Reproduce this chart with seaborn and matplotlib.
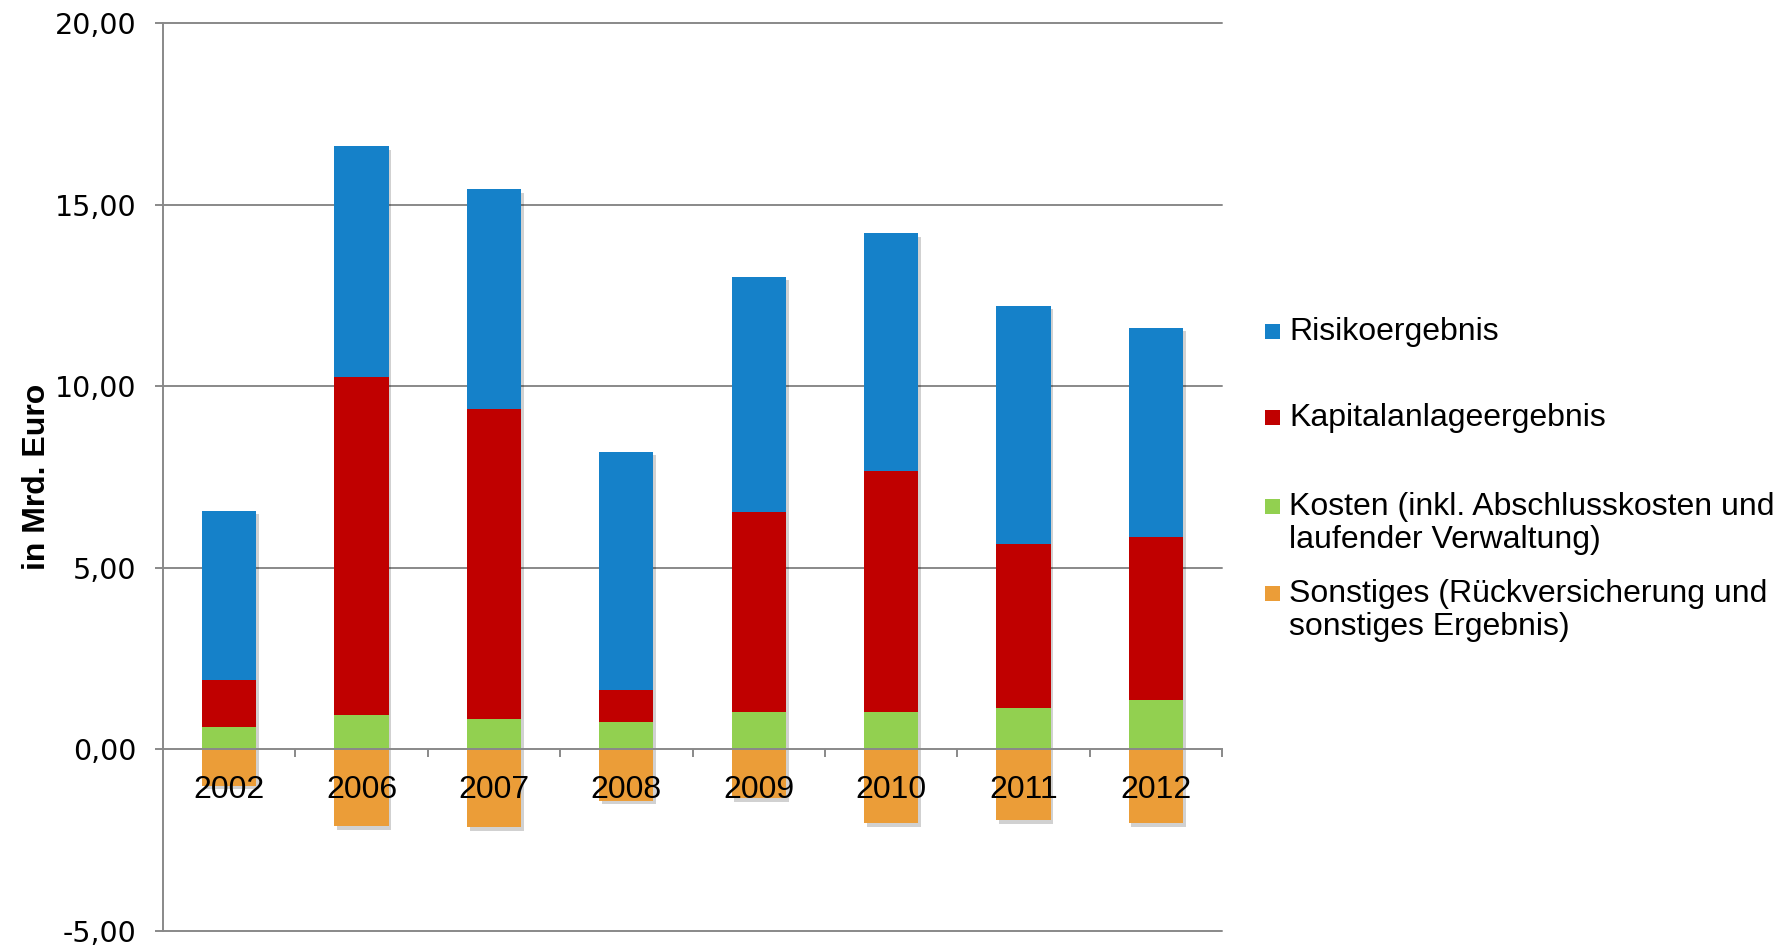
import matplotlib
matplotlib.use("Agg")
import matplotlib.pyplot as plt
import matplotlib.patheffects as pe
from matplotlib.patches import Rectangle
from matplotlib.ticker import FuncFormatter, FixedLocator
import numpy as np
import pandas as pd
import seaborn as sns

# Überschussquellen der Lebensversicherer, in Mrd. Euro
years = ["2002", "2006", "2007", "2008", "2009", "2010", "2011", "2012"]
risiko = [4.66, 6.37, 6.06, 6.55, 6.46, 6.55, 6.57, 5.76]
kapital = [1.30, 9.29, 8.52, 0.89, 5.51, 6.62, 4.51, 4.50]
kosten = [0.61, 0.95, 0.84, 0.75, 1.04, 1.04, 1.14, 1.35]
sonstiges = [-1.00, -2.12, -2.14, -1.42, -1.35, -2.04, -1.95, -2.04]

series_labels = [
    "Risikoergebnis",
    "Kapitalanlageergebnis",
    "Kosten (inkl. Abschlusskosten und\nlaufender Verwaltung)",
    "Sonstiges (Rückversicherung und\nsonstiges Ergebnis)",
]
series_colors = ["#1581C9", "#C00000", "#92D050", "#EB9D38"]
y_ticks = [-5, 0, 5, 10, 15, 20]

sns.set_theme(style="white")
plt.rcParams["font.family"] = ["Liberation Sans", "DejaVu Sans"]

df = pd.DataFrame({
    "Jahr": years,
    "Risiko": risiko,
    "Kapital": kapital,
    "Kosten": kosten,
    "Sonstiges": sonstiges,
})
# cumulative tops of the positive stack (drawn back to front)
df["top_kosten"] = df["Kosten"]
df["top_kapital"] = df["Kosten"] + df["Kapital"]
df["top_risiko"] = df["top_kapital"] + df["Risiko"]

fig = plt.figure(figsize=(17.92, 9.46), dpi=100)
ax = fig.add_axes([163 / 1792, 15 / 946, 1059 / 1792, 908 / 946])

grid_color = "#898989"
bar_w = 0.41
shadow = [pe.SimplePatchShadow(offset=(2.0, -2.5), shadow_rgbFace="black", alpha=0.18), pe.Normal()]

layers = [
    ("top_risiko", series_colors[0], True),
    ("top_kapital", series_colors[1], False),
    ("top_kosten", series_colors[2], False),
    ("Sonstiges", series_colors[3], True),
]
for col, color, with_shadow in layers:
    sns.barplot(data=df, x="Jahr", y=col, order=years, color=color, saturation=1,
                width=bar_w, errorbar=None, linewidth=0, ax=ax, zorder=2)
    if with_shadow:
        for patch in ax.containers[-1]:
            patch.set_path_effects(shadow)

ax.set_xlim(-0.5, len(years) - 0.5)
ax.set_ylim(y_ticks[0], y_ticks[-1])

# horizontal gridlines behind the bars
for yv in y_ticks:
    if yv != 0:
        ax.axhline(yv, color=grid_color, linewidth=1.4, zorder=0.5, clip_on=False)

ax.set_axisbelow(False)
for side in ["top", "right"]:
    ax.spines[side].set_visible(False)
ax.spines["bottom"].set_position(("data", 0))
ax.spines["bottom"].set_color(grid_color)
ax.spines["bottom"].set_linewidth(1.4)
ax.spines["bottom"].set_zorder(3)
ax.spines["left"].set_color(grid_color)
ax.spines["left"].set_linewidth(1.4)

ax.yaxis.set_major_locator(FixedLocator(y_ticks))
ax.yaxis.set_major_formatter(FuncFormatter(lambda v, p: f"{v:.2f}".replace(".", ",")))
ax.tick_params(axis="y", which="major", direction="out", length=6, width=1.4,
               color=grid_color, pad=13, left=True)
for lbl in ax.get_yticklabels():
    lbl.set_fontfamily("DejaVu Sans")
    lbl.set_fontsize(20.5)
    lbl.set_color("black")

ax.set_xticks(range(len(years)))
ax.set_xticklabels(years)
ax.set_xticks(np.arange(len(years)) + 0.5, minor=True)
ax.tick_params(axis="x", which="major", length=0, pad=18.5, labelsize=23, labelcolor="black",
               bottom=True)
ax.tick_params(axis="x", which="minor", direction="out", length=6, width=1.4,
               color=grid_color, bottom=True)
ax.set_xlabel("")
ax.set_ylabel("in Mrd. Euro", fontsize=23, fontweight="bold", color="black")
ax.yaxis.set_label_coords(-0.105, 0.5)

# legend entries at evenly spaced rows
legend_rows = [332, 418, 506, 593]
line_pitch = 35
for label, color, y_px in zip(series_labels, series_colors, legend_rows):
    n_lines = label.count("\n") + 1
    sq = 15
    fig.add_artist(Rectangle((1265 / 1792, 1 - (y_px + sq / 2) / 946), sq / 1792, sq / 946,
                             transform=fig.transFigure, facecolor=color, edgecolor="none"))
    center = y_px + (n_lines - 1) * line_pitch / 2
    fig.text(1289 / 1792, 1 - center / 946, label, fontsize=23, color="black",
             ha="left", va="center", linespacing=1.12)

fig.savefig("out.png", dpi=100)
